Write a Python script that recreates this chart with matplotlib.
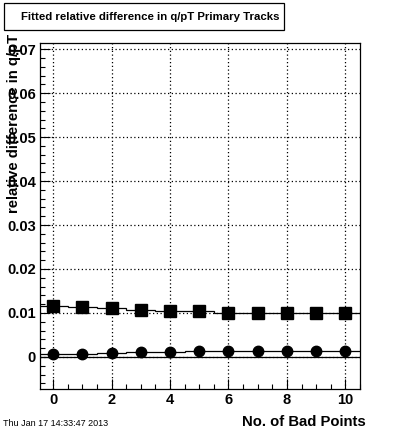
import matplotlib
matplotlib.use("Agg")
import matplotlib.pyplot as plt
import numpy as np
from matplotlib.ticker import MultipleLocator, FuncFormatter
from matplotlib.patches import Rectangle

plt.rcParams['font.family'] = ['Liberation Sans', 'DejaVu Sans']

# bad points and fitted values
bad_points = [0, 1, 2, 3, 4, 5, 6, 7, 8, 9, 10]
sigma_vals = [0.0116, 0.0113, 0.0111, 0.0106, 0.0104, 0.0104, 0.0101, 0.0101, 0.0101, 0.0101, 0.0101]
mean_vals = [0.0007, 0.0006, 0.0009, 0.0011, 0.0011, 0.0013, 0.0013, 0.0013, 0.0013, 0.0013, 0.0013]

W, H = 400, 433
fig = plt.figure(figsize=(W / 100, H / 100), dpi=100)
ax = fig.add_axes([0.10, 0.1016, 0.80, 0.799])

edges = np.arange(len(bad_points) + 1) - 0.5
ax.stairs(sigma_vals, edges, baseline=None, color='black', lw=0.9, zorder=3)
ax.stairs(mean_vals, edges, baseline=None, color='black', lw=0.9, zorder=3)
ax.plot(bad_points, sigma_vals, 's', color='black', ms=9, zorder=4)
ax.plot(bad_points, mean_vals, 'o', color='black', ms=7.5, zorder=4)
ax.axhline(0, color='black', lw=0.9, zorder=3)

ax.set_xlim(-0.45, 10.5)
ax.set_ylim(-0.0073, 0.0714)

ax.xaxis.set_major_locator(MultipleLocator(2))
ax.xaxis.set_minor_locator(MultipleLocator(0.5))
ax.yaxis.set_major_locator(MultipleLocator(0.01))
ax.yaxis.set_minor_locator(MultipleLocator(0.002))
ax.yaxis.set_major_formatter(FuncFormatter(lambda v, p: f"{v:g}" if abs(v) > 1e-9 else "0"))

ax.grid(True, which='major', ls=(0, (1, 2)), color='black', lw=0.9)
ax.tick_params(which='both', direction='in', top=False, right=False, width=0.8)
ax.tick_params(which='major', length=7, labelsize=10.5, pad=3)
ax.tick_params(which='minor', length=3.5)
for lab in ax.get_xticklabels() + ax.get_yticklabels():
    lab.set_fontweight('bold')
for s in ax.spines.values():
    s.set_linewidth(0.9)

# title box
fig.add_artist(Rectangle((4 / W, 1 - 30 / H), 280 / W, 27 / H, transform=fig.transFigure,
                         fc='white', ec='black', lw=0.9))
fig.text(21 / W, 1 - 16.5 / H, "Fitted relative difference in q/pT Primary Tracks",
         fontsize=8.2, fontweight='bold', va='center', ha='left')

fig.text(14 / W, 1 - 123 / H, "relative difference in q/pT", rotation=90, fontsize=10.7,
         fontweight='bold', ha='center', va='center')
fig.text(366 / W, 1 - 422 / H, "No. of Bad Points", fontsize=10.7, fontweight='bold',
         ha='right', va='center')
fig.text(3 / W, 1 - 424 / H, "Thu Jan 17 14:33:47 2013", fontsize=6.5, ha='left', va='center')

fig.savefig("out.png", dpi=100)
